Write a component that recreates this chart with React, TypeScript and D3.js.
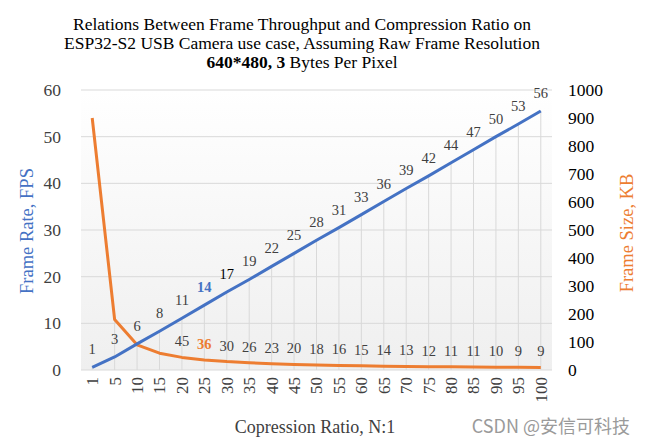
import React from "react";
import * as d3 from "d3";

const categories = ["1","5","10","15","20","25","30","35","40","45","50","55","60","65","70","75","80","85","90","95","100"];
const fpsValues = [0.56,2.8,5.6,8.3,11.1,13.9,16.7,19.4,22.2,25,27.8,30.5,33.3,36.1,38.9,41.6,44.4,47.2,50,52.7,55.5];
const fpsLabels = ["1","3","6","8","11","14","17","19","22","25","28","31","33","36","39","42","44","47","50","53","56"];
const sizeValues = [900,180,90,60,45,36,30,26,22.5,20,18,16.4,15,13.8,12.9,12,11.3,10.6,10,9.5,9];
const sizeLabels = ["","","","","45","36","30","26","23","20","18","16","15","14","13","12","11","11","10","9","9"];
const leftTicks = [0,10,20,30,40,50,60];
const rightTicks = [0,100,200,300,400,500,600,700,800,900,1000];

const W = 648, H = 443;
const L = 81, R = 552, T = 90, B = 370;
const BLUE = "#4472C4", ORANGE = "#ED7D31";
const SERIF = "'Liberation Serif', 'Times New Roman', serif";

export default function App() {
  const x = d3.scaleBand<string>().domain(categories).range([L, R]);
  const cx = (c: string) => (x(c) as number) + x.bandwidth() / 2;
  const yL = d3.scaleLinear().domain([0, 60]).range([B, T]);
  const yR = d3.scaleLinear().domain([0, 1000]).range([B, T]);
  const blueLine = d3.line<number>().x((_, i) => cx(categories[i])).y(d => yL(d));
  const orangeLine = d3.line<number>().x((_, i) => cx(categories[i])).y(d => yR(d));

  return (
    <svg width={W} height={H} style={{ position: "absolute", left: 0, top: 0, background: "#fff" }} fontFamily={SERIF}>
      <defs>
        <linearGradient id="bg" x1="0" y1="0" x2="0" y2="1">
          <stop offset="0" stopColor="#ffffff" />
          <stop offset="1" stopColor="#efefef" />
        </linearGradient>
      </defs>
      <rect x={0} y={0} width={W} height={H} fill="#fff" />
      <g textAnchor="middle" fontSize={17.5} fill="#000">
        <text x={302} y={30}>Relations Between Frame Throughput and Compression Ratio on</text>
        <text x={302} y={49}>ESP32-S2 USB Camera use case, Assuming Raw Frame Resolution</text>
        <text x={302} y={68}><tspan fontWeight="bold">640*480, 3</tspan> Bytes Per Pixel</text>
      </g>
      <rect x={L} y={T} width={R - L} height={B - T} fill="url(#bg)" />
      {leftTicks.map(t => (
        <line key={"g" + t} x1={L} x2={R} y1={yL(t)} y2={yL(t)} stroke="#d9d9d9" strokeWidth={1} />
      ))}
      {categories.map((c, i) => {
        const top = i === 0 ? yL(fpsValues[i]) : Math.min(yL(fpsValues[i]), yR(sizeValues[i]));
        return <line key={"d" + c} x1={cx(c)} x2={cx(c)} y1={top} y2={B} stroke="#d9d9d9" strokeWidth={1} />;
      })}
      <path d={orangeLine(sizeValues) as string} fill="none" stroke={ORANGE} strokeWidth={3} strokeLinejoin="round" />
      <path d={blueLine(fpsValues) as string} fill="none" stroke={BLUE} strokeWidth={3} strokeLinejoin="round" />
      <g fontSize={14.5} textAnchor="middle">
        {categories.map((c, i) => (
          <text key={"bl" + c} x={cx(c)} y={yL(fpsValues[i]) - 13}
            fill={i === 5 ? BLUE : i === 6 ? "#000" : "#404040"} fontWeight={i === 5 ? "bold" : "normal"}>
            {fpsLabels[i]}
          </text>
        ))}
        {categories.map((c, i) => sizeLabels[i] ? (
          <text key={"ol" + c} x={cx(c)} y={yR(sizeValues[i]) - 11}
            fill={i === 5 ? ORANGE : "#404040"} fontWeight={i === 5 ? "bold" : "normal"}>
            {sizeLabels[i]}
          </text>
        ) : null)}
      </g>
      <g fontSize={17.5} fill="#404040" textAnchor="end">
        {leftTicks.map(t => (
          <text key={"lt" + t} x={61} y={yL(t)} dy="0.35em">{t}</text>
        ))}
      </g>
      <g fontSize={17.5} fill="#000" textAnchor="start">
        {rightTicks.map(t => (
          <text key={"rt" + t} x={568} y={yR(t)} dy="0.35em">{t}</text>
        ))}
      </g>
      <g fontSize={17} fill="#404040" textAnchor="end">
        {categories.map(c => (
          <text key={"xt" + c} transform={`translate(${cx(c)},${B + 7}) rotate(-90)`} dy="0.35em">{c}</text>
        ))}
      </g>
      <text x={315} y={433} textAnchor="middle" fontSize={18} fill="#404040">Copression Ratio, N:1</text>
      <text transform={`translate(27,231) rotate(-90)`} textAnchor="middle" dy="0.35em" fontSize={18.5} fill={BLUE}>Frame Rate, FPS</text>
      <text transform={`translate(627,233) rotate(-90)`} textAnchor="middle" dy="0.35em" fontSize={18.5} fill={ORANGE}>Frame Size, KB</text>
      <text x={630} y={433} textAnchor="end" fontSize={18} fill="#9a9a9a" fontFamily="'Noto Sans CJK SC', 'Noto Sans', sans-serif">CSDN @安信可科技</text>
    </svg>
  );
}
